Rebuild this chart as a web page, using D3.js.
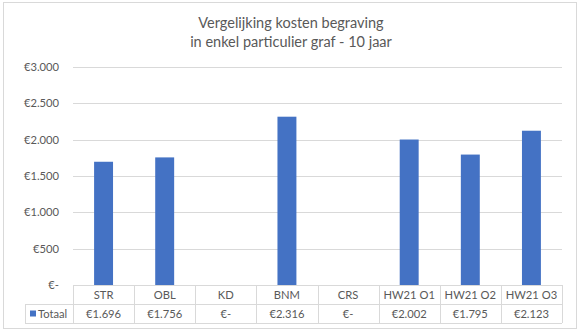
<!DOCTYPE html>
<html>
<head>
<meta charset="utf-8">
<script src="https://cdn.jsdelivr.net/npm/d3@7"></script>
<style>
  html, body { margin: 0; padding: 0; background: #fff; }
  svg { display: block; font-family: Lato, "Open Sans", sans-serif; }
</style>
</head>
<body>
<svg id="chart" width="583" height="335"></svg>
<script>
// Cost comparison for a single private grave over 10 years
const categories = ["STR", "OBL", "KD", "BNM", "CRS", "HW21 O1", "HW21 O2", "HW21 O3"];
const totals = [1696, 1756, 0, 2316, 0, 2002, 1795, 2123];
const seriesName = "Totaal";
const yTicks = [0, 500, 1000, 1500, 2000, 2500, 3000];
const titleLines = ["Vergelijking kosten begraving", "in enkel particulier graf - 10 jaar"];

const nl = d3.formatLocale({ decimal: ",", thousands: ".", grouping: [3], currency: ["€", ""] });
const fmtNum = nl.format("$,.0f");
const euro = v => v === 0 ? "€-" : fmtNum(v);

const svg = d3.select("#chart");
const plot = { left: 73, right: 562, top: 67, bottom: 285 };
const rowH = 19;
const legendLeft = 25;
const grid = "#d9d9d9", textCol = "#595959", barCol = "#4472C4";
const fs = 11.2;

// outer chart frame
svg.append("rect").attr("x", 3.5).attr("y", 2.5).attr("width", 573).attr("height", 326)
  .attr("fill", "#fff").attr("stroke", grid);

// title
svg.append("text").attr("x", 291).attr("text-anchor", "middle").attr("fill", textCol)
  .attr("font-size", 14.5)
  .selectAll("tspan").data(titleLines).join("tspan")
  .attr("x", 291).attr("y", (d, i) => 28 + i * 19).text(d => d);

const x = d3.scaleBand().domain(categories).range([plot.left, plot.right]).paddingInner(0.69).paddingOuter(0.345);
const xCell = d3.scaleBand().domain(categories).range([plot.left, plot.right]);
const y = d3.scaleLinear().domain([0, 3000]).range([plot.bottom, plot.top]);

// value axis with gridlines
const yAxis = svg.append("g").attr("transform", `translate(${plot.left},0)`)
  .call(d3.axisLeft(y).tickValues(yTicks).tickFormat(euro).tickSize(-(plot.right - plot.left)).tickPadding(14));
yAxis.select(".domain").remove();
yAxis.selectAll(".tick line").attr("stroke", grid).attr("shape-rendering", "crispEdges");
yAxis.selectAll(".tick text").attr("fill", textCol).attr("font-size", fs).attr("font-family", "Lato, sans-serif");

// bars
svg.append("g").selectAll("rect").data(totals).join("rect")
  .attr("x", (d, i) => x(categories[i]))
  .attr("width", x.bandwidth())
  .attr("y", d => y(d))
  .attr("height", d => y(0) - y(d))
  .attr("fill", barCol);

// data table below the plot
const t = svg.append("g").attr("stroke", grid).attr("shape-rendering", "crispEdges");
const r0 = plot.bottom, r1 = plot.bottom + rowH, r2 = plot.bottom + rowH * 2;
t.append("line").attr("x1", plot.left).attr("x2", plot.right).attr("y1", r0 + 0.5).attr("y2", r0 + 0.5);
t.append("line").attr("x1", legendLeft).attr("x2", plot.right).attr("y1", r1 + 0.5).attr("y2", r1 + 0.5);
t.append("line").attr("x1", legendLeft).attr("x2", plot.right).attr("y1", r2 + 0.5).attr("y2", r2 + 0.5);
t.append("line").attr("x1", legendLeft + 0.5).attr("x2", legendLeft + 0.5).attr("y1", r1).attr("y2", r2);
const bounds = categories.map(c => xCell(c)).concat([plot.right]);
t.selectAll("line.v").data(bounds).join("line").attr("class", "v")
  .attr("x1", d => Math.round(d) + 0.5).attr("x2", d => Math.round(d) + 0.5)
  .attr("y1", r0).attr("y2", r2);

const txt = svg.append("g").attr("fill", textCol).attr("font-size", fs).attr("text-anchor", "middle");
txt.selectAll("text.cat").data(categories).join("text").attr("class", "cat")
  .attr("x", d => xCell(d) + xCell.bandwidth() / 2).attr("y", r0 + 13.5).text(d => d);
txt.selectAll("text.val").data(totals).join("text").attr("class", "val")
  .attr("x", (d, i) => xCell(categories[i]) + xCell.bandwidth() / 2).attr("y", r1 + 13.5).text(d => euro(d));

// legend key inside the table
svg.append("rect").attr("x", 30).attr("y", r1 + 6.5).attr("width", 6).attr("height", 6).attr("fill", barCol);
svg.append("text").attr("x", 38).attr("y", r1 + 13.5).attr("fill", textCol).attr("font-size", fs).text(seriesName);
</script>
</body>
</html>
